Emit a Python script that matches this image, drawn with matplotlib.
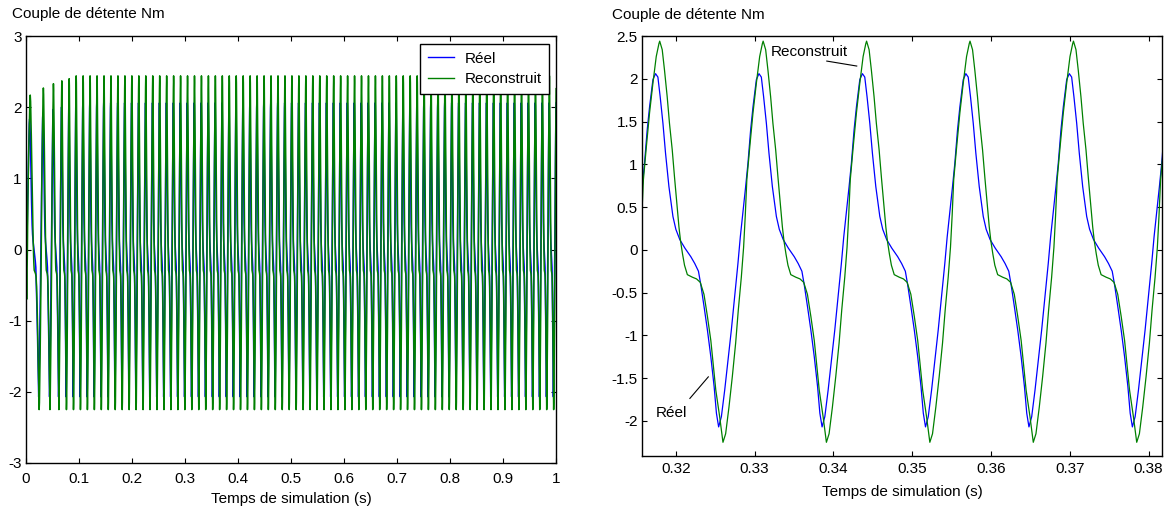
import numpy as np
import matplotlib.pyplot as plt

plt.rcParams['font.family'] = ['Liberation Sans', 'DejaVu Sans']
plt.rcParams['axes.unicode_minus'] = False
plt.rcParams['font.size'] = 11

# one period of each torque (ms after the minimum of "Réel")
period_ms = 13.13
reel_tau_ms = [0.00, 0.35, 0.77, 1.19, 1.61, 2.03, 2.45, 2.75, 3.43, 3.72, 4.06, 4.36,
               4.79, 5.12, 5.42, 5.71, 6.06, 6.39, 6.82, 7.33, 7.70, 8.20, 8.85, 9.60,
               10.10, 10.57, 10.87, 11.29, 11.71, 12.14, 12.56, 12.85]
reel_nm = [-2.07, -1.95, -1.64, -1.29, -0.94, -0.55, -0.16, 0.15, 0.74, 1.01, 1.40, 1.67,
           1.99, 2.06, 2.02, 1.79, 1.48, 1.13, 0.74, 0.39, 0.24, 0.12, 0.02, -0.08,
           -0.16, -0.25, -0.41, -0.67, -0.94, -1.25, -1.60, -1.91]
reco_tau_ms = [0.13, 0.55, 0.89, 1.31, 1.74, 2.16, 2.50, 2.88, 3.17, 3.38, 3.58, 3.96,
               4.36, 4.79, 5.21, 5.55, 5.65, 5.97, 6.26, 6.60, 6.89, 7.24, 7.53, 7.83,
               8.09, 8.30, 8.55, 8.80, 9.16, 9.80, 10.33, 10.80, 11.27, 11.71, 12.14,
               12.43, 12.77]
reco_nm = [-1.95, -2.25, -2.15, -1.84, -1.48, -1.09, -0.70, -0.32, 0.03, 0.40, 0.82, 1.21,
           1.60, 1.95, 2.26, 2.41, 2.44, 2.34, 2.10, 1.79, 1.48, 1.17, 0.85, 0.54,
           0.27, 0.10, -0.05, -0.18, -0.29, -0.32, -0.34, -0.38, -0.52, -0.78, -1.06,
           -1.33, -1.64]

# start-up: minima of "Réel" (s) and peak of "Reconstruit" for the first cycles
startup_minima_s = [-0.004, 0.024, 0.0445, 0.0615, 0.0758]
startup_peak_nm = [2.17, 2.27, 2.33, 2.37, 2.40]
steady_first_min_s = 0.08909
steady_peak_nm = 2.44


def build(tau_ms, vals):
    starts = startup_minima_s + list(steady_first_min_s + period_ms / 1000 * np.arange(72))
    tt, vv = [0.0], [0.0]
    for k in range(len(starts) - 1):
        L = starts[k + 1] - starts[k]
        t = starts[k] + np.array(tau_ms) / period_ms * L
        v = np.array(vals, dtype=float)
        if k < len(startup_peak_nm):
            v = np.where(v > 0, v * startup_peak_nm[k] / steady_peak_nm, v)
        keep = t > 0.0008
        tt += list(t[keep])
        vv += list(v[keep])
    return np.array(tt), np.array(vv)


t_reel, y_reel = build(reel_tau_ms, reel_nm)
t_reco, y_reco = build(reco_tau_ms, reco_nm)

blue = (0, 0, 1)
green = (0, 0.5, 0)

fig = plt.figure(figsize=(11.7, 5.08), dpi=100)
ax1 = fig.add_axes([0.0222, 0.0886, 0.4530, 0.8405])
ax2 = fig.add_axes([0.5487, 0.1024, 0.4444, 0.8267])

ax1.plot(t_reel, y_reel, color=blue, lw=1.1, label='Réel')
ax1.plot(t_reco, y_reco, color=green, lw=1.1, label='Reconstruit')
ax1.set_xlim(0, 1)
ax1.set_ylim(-3, 3)
ax1.set_xticks(np.arange(0, 1.01, 0.1))
ax1.set_xticklabels(['0', '0.1', '0.2', '0.3', '0.4', '0.5', '0.6', '0.7', '0.8', '0.9', '1'])
ax1.set_yticks([-3, -2, -1, 0, 1, 2, 3])
ax1.set_yticklabels(['-3', '-2', '-1', '0', '1', '2', '3'])
leg = ax1.legend(loc='upper right', bbox_to_anchor=(0.987, 0.981), borderaxespad=0,
                 fancybox=False, framealpha=1, edgecolor='black', handlelength=1.7,
                 handletextpad=0.7, labelspacing=0.4, borderpad=0.5)
leg.get_frame().set_linewidth(1.0)
for h in leg.get_lines():
    h.set_linewidth(1.0)

ax2.plot(t_reel, y_reel, color=blue, lw=0.9)
ax2.plot(t_reco, y_reco, color=green, lw=0.9)
ax2.set_xlim(0.3157, 0.3817)
ax2.set_ylim(-2.41, 2.5)
ax2.set_xticks([0.32, 0.33, 0.34, 0.35, 0.36, 0.37, 0.38])
ax2.set_xticklabels(['0.32', '0.33', '0.34', '0.35', '0.36', '0.37', '0.38'])
ax2.set_yticks([-2, -1.5, -1, -0.5, 0, 0.5, 1, 1.5, 2, 2.5])
ax2.set_yticklabels(['-2', '-1.5', '-1', '-0.5', '0', '0.5', '1', '1.5', '2', '2.5'])

ax2.text(0.33205, 2.31, 'Reconstruit', ha='left', va='center')
ax2.plot([0.33916, 0.34296], [2.207, 2.149], color='black', lw=0.8)
ax2.text(0.31746, -1.91, 'Réel', ha='left', va='center')
ax2.plot([0.32178, 0.32412], [-1.737, -1.485], color='black', lw=0.8)

for ax in (ax1, ax2):
    ax.tick_params(direction='in', top=True, right=True, length=3.5, width=0.8,
                   labelsize=11)
    ax.tick_params(axis='y', pad=3)
    for s in ax.spines.values():
        s.set_linewidth(1.0)

ax1.tick_params(axis='x', pad=6.5)
ax2.tick_params(axis='x', pad=4)
ax1.set_xlabel('Temps de simulation (s)', labelpad=4.5)
ax2.set_xlabel('Temps de simulation (s)', labelpad=6.5)

fig.text(12 / 1170, 1 - 14 / 508, 'Couple de détente Nm', ha='left', va='center')
fig.text(612 / 1170, 1 - 15 / 508, 'Couple de détente Nm', ha='left', va='center')

fig.savefig('out.png', dpi=100)
